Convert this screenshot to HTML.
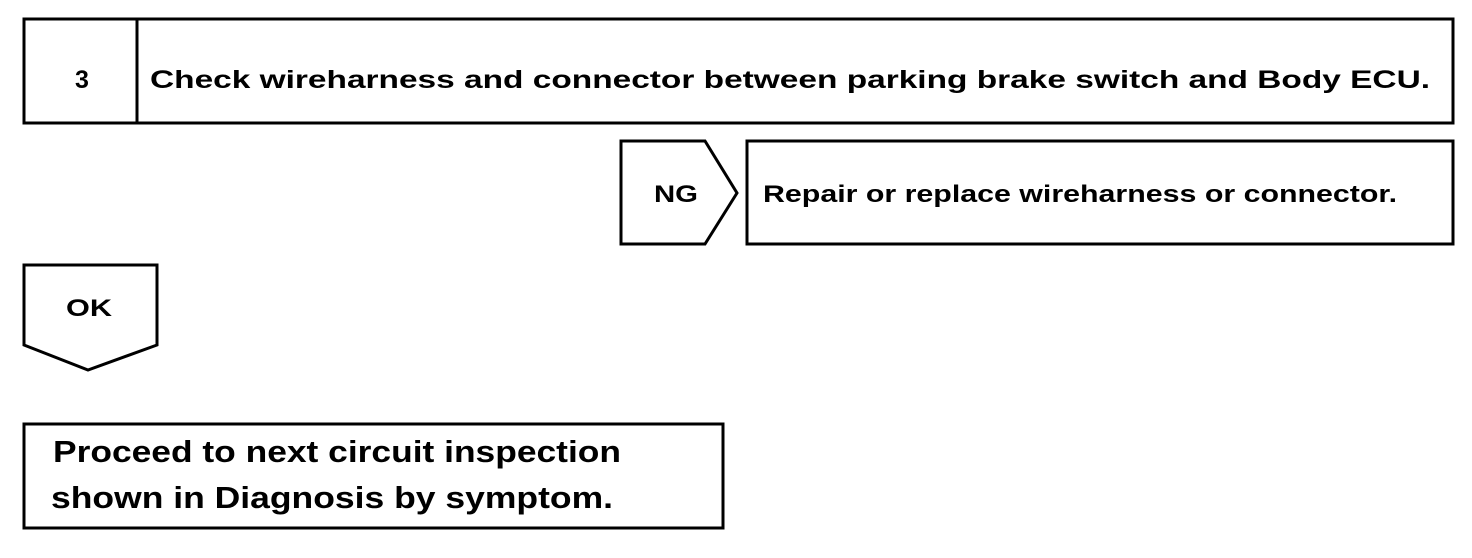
<!DOCTYPE html>
<html><head><meta charset="utf-8"><style>
html,body{margin:0;padding:0;background:#fff;}
svg{display:block;}
text{font-family:"Liberation Sans",Arial,sans-serif;font-weight:bold;fill:#000;}
</style></head><body>
<svg width="1472" height="558" viewBox="0 0 1472 558" xmlns="http://www.w3.org/2000/svg">
<g fill="none" stroke="#000" stroke-width="3">
<rect x="24" y="19" width="1429" height="104"/>
<line x1="137" y1="19" x2="137" y2="123"/>
<polygon points="621,141 705,141 737,193 705,244 621,244"/>
<rect x="747" y="141" width="706" height="103"/>
<polygon points="24,265 157,265 157,345 88,370 24,345"/>
<rect x="24" y="424" width="699" height="104"/>
</g>
<text x="75" y="88" font-size="25">3</text>
<text x="150" y="88" font-size="25" textLength="1280" lengthAdjust="spacingAndGlyphs">Check wireharness and connector between parking brake switch and Body ECU.</text>
<text x="654" y="202" font-size="24" textLength="44" lengthAdjust="spacingAndGlyphs">NG</text>
<text x="763" y="202" font-size="24" textLength="634" lengthAdjust="spacingAndGlyphs">Repair or replace wireharness or connector.</text>
<text x="66" y="316" font-size="24" textLength="46" lengthAdjust="spacingAndGlyphs">OK</text>
<text x="53" y="462" font-size="31" textLength="568" lengthAdjust="spacingAndGlyphs">Proceed to next circuit inspection</text>
<text x="51" y="508" font-size="31" textLength="562" lengthAdjust="spacingAndGlyphs">shown  in Diagnosis by symptom.</text>
</svg>
</body></html>
